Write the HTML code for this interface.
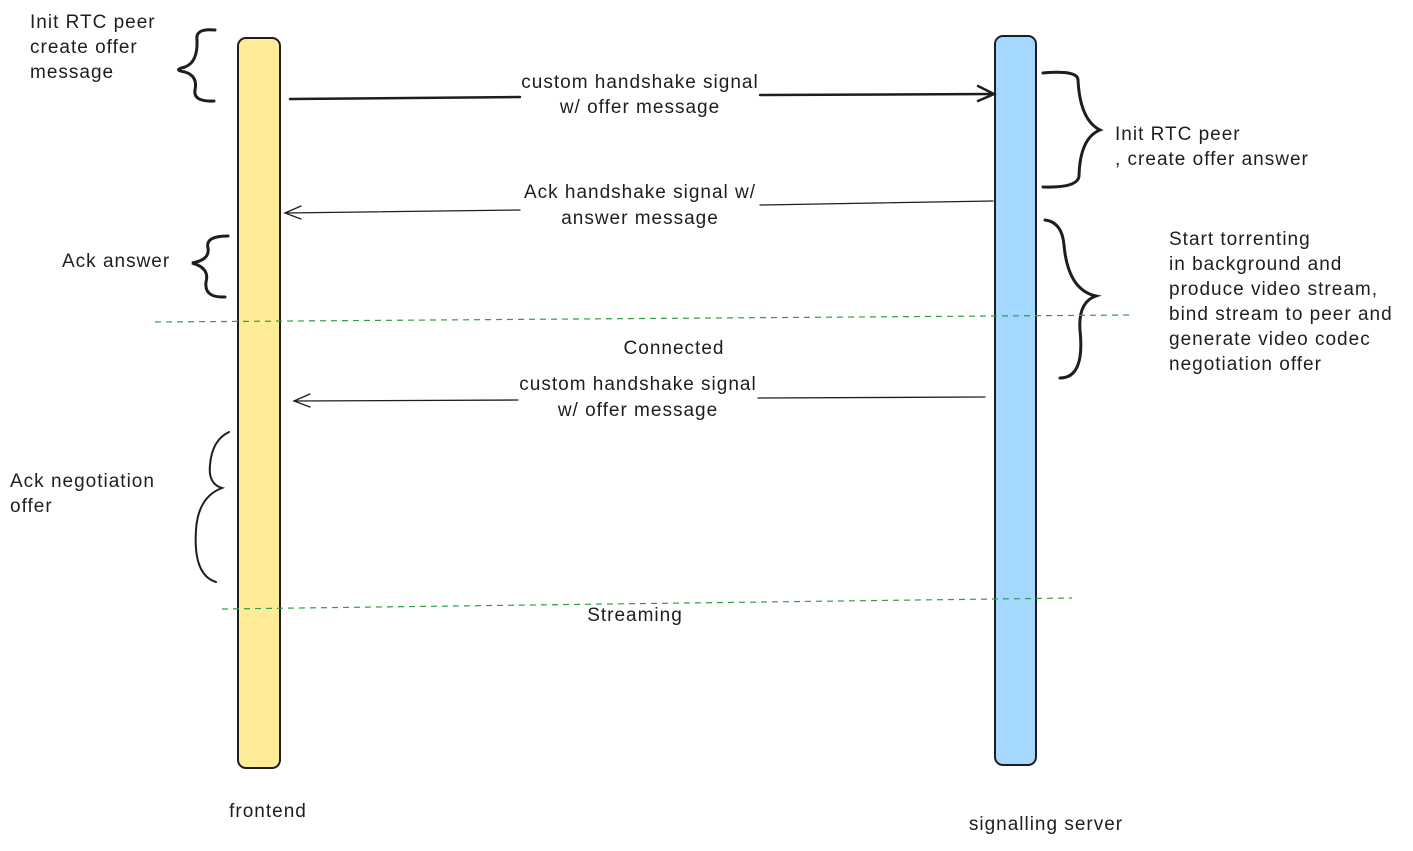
<!DOCTYPE html>
<html><head><meta charset="utf-8"><style>
html,body{margin:0;padding:0;background:#fff}
svg text{font-family:"Liberation Sans",sans-serif;font-size:19px;letter-spacing:1px;fill:#1e1e1e}
</style></head><body>
<svg width="1413" height="846" viewBox="0 0 1413 846" xmlns="http://www.w3.org/2000/svg">
<rect x="238" y="38" width="42" height="730" rx="8" fill="#ffec99" stroke="#1e1e1e" stroke-width="2"/>
<rect x="995" y="36" width="41" height="729" rx="8" fill="#a5d8ff" stroke="#1e1e1e" stroke-width="2"/>

<g stroke="#1e1e1e" fill="none" stroke-linecap="round">
<path d="M290 99 L520 97 M760 95 L993 94" stroke-width="2.5"/>
<path d="M978 86 L994 94 L978 101" stroke-width="2.5"/>
<path d="M993 201 L760 205 M520 210 L285 213" stroke-width="1.3"/>
<path d="M301 206 L285 213 L301 219" stroke-width="1.3"/>
<path d="M985 397 L758 398 M518 400 L294 401" stroke-width="1.3"/>
<path d="M310 394 L294 401 L310 407" stroke-width="1.3"/>

<path d="M215 30 Q195 28 197 40 Q198 62 185 67 Q172 70 185 72 Q198 76 195 90 Q193 102 214 101" stroke-width="3"/>
<path d="M228 236 Q205 236 208 248 Q210 260 192 263 Q210 268 206 282 Q204 298 225 297" stroke-width="3"/>
<path d="M229 432 Q212 440 210 465 Q208 484 222 488 Q198 497 196 530 Q193 575 216 582" stroke-width="2"/>
<path d="M1043 73 Q1078 70 1078 80 Q1080 120 1100 130 Q1080 138 1079 176 Q1078 188 1043 187" stroke-width="3"/>
<path d="M1045 220 Q1062 222 1064 245 Q1068 290 1096 296 Q1078 302 1080 330 Q1085 378 1060 378" stroke-width="3"/>
</g>

<g stroke="#2f9e44" stroke-width="1.2" stroke-dasharray="6 5" fill="none">
<path d="M155 322 L1133 315"/>
<path d="M222 609 L1072 598"/>
</g>

<g text-anchor="middle">
<text x="640" y="88">custom handshake signal</text>
<text x="640" y="113">w/ offer message</text>
<text x="640" y="198">Ack handshake signal w/</text>
<text x="640" y="224">answer message</text>
<text x="674" y="354">Connected</text>
<text x="638" y="390">custom handshake signal</text>
<text x="638" y="416">w/ offer message</text>
<text x="635" y="621">Streaming</text>
<text x="268" y="817">frontend</text>
<text x="1046" y="830">signalling server</text>
</g>
<text x="30" y="28">Init RTC peer</text>
<text x="30" y="53">create offer</text>
<text x="30" y="78">message</text>
<text x="62" y="267">Ack answer</text>
<text x="10" y="487">Ack negotiation</text>
<text x="10" y="512">offer</text>
<text x="1115" y="140">Init RTC peer</text>
<text x="1115" y="165">, create offer answer</text>
<text x="1169" y="245">Start torrenting</text>
<text x="1169" y="270">in background and</text>
<text x="1169" y="295">produce video stream,</text>
<text x="1169" y="320">bind stream to peer and</text>
<text x="1169" y="345">generate video codec</text>
<text x="1169" y="370">negotiation offer</text>
</svg>
</body></html>
